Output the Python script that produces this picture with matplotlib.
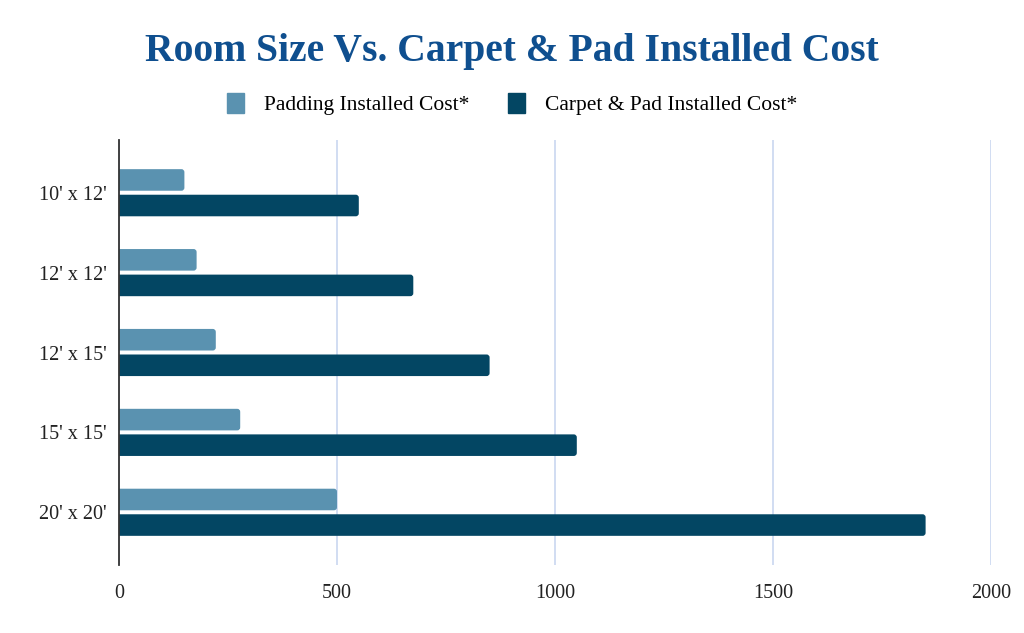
import matplotlib.pyplot as plt
from matplotlib.patches import FancyBboxPatch, Patch
import numpy as np

rooms = ["10' x 12'", "12' x 12'", "12' x 15'", "15' x 15'", "20' x 20'"]
padding = [150, 178, 222, 278, 500]
carpet_pad = [550, 675, 850, 1050, 1850]
x_ticks = [0, 500, 1000, 1500, 2000]
series_names = ['Padding Installed Cost*', 'Carpet & Pad Installed Cost*']
colors = ['#5a92b0', '#034663']

plt.rcParams['font.family'] = ['Liberation Serif', 'DejaVu Serif']

fig = plt.figure(figsize=(10.24, 6.33), dpi=100)
ax = fig.add_axes([119/1024, 1-565/633, (991-119)/1024, (565-140)/633])

y = np.arange(len(rooms))
h = 0.27
b1 = ax.barh(y - 0.16, padding, height=h, color=colors[0], zorder=3)
b2 = ax.barh(y + 0.16, carpet_pad, height=h, color=colors[1], zorder=3)

ax.set_ylim(len(rooms) - 1 + 0.66, -0.66)
ax.set_xlim(0, 2000)

# rounded corners: swap each bar for a rounded patch of the same size
x_per_px = 2000 / 872
y_per_px = (len(rooms) - 1 + 1.32) / 425
for bars in (b1, b2):
    for p in bars.patches:
        p.set_visible(False)
        r = FancyBboxPatch((p.get_x() - 8, p.get_y()), p.get_width() + 8, p.get_height(),
                           boxstyle='round,pad=0,rounding_size=%f' % (3 * x_per_px),
                           mutation_aspect=y_per_px / x_per_px,
                           color=p.get_facecolor(), lw=0, zorder=3)
        ax.add_patch(r)

ax.set_yticks(y)
ax.set_yticklabels(rooms, fontsize=14.5)
ax.set_xticks(x_ticks)
ax.set_xticklabels([str(t) for t in x_ticks], fontsize=14.5)
ax.grid(axis='x', color='#c9d7f0', linewidth=1.2, zorder=0)
for s in ['top', 'right', 'bottom']:
    ax.spines[s].set_visible(False)
ax.spines['left'].set_color('#333333')
ax.spines['left'].set_linewidth(1.3)
ax.spines['left'].set_zorder(5)
ax.tick_params(axis='both', length=0, colors='#222222')
ax.tick_params(axis='x', pad=14)
ax.tick_params(axis='y', pad=9)

fig.text(0.5, 1-52/633, 'Room Size Vs. Carpet & Pad Installed Cost', ha='center', va='center',
         fontsize=28.5, fontweight='bold', color='#0f4f8f')
handles = [Patch(color=c, label=n) for c, n in zip(colors, series_names)]
fig.legend(handles=handles, loc='center', bbox_to_anchor=(0.5, 1-104/633), ncol=2, frameon=False,
           fontsize=15.5, handlelength=0.8, handleheight=1.1, columnspacing=1.8, handletextpad=0.9)

fig.savefig('out.png', dpi=100)
